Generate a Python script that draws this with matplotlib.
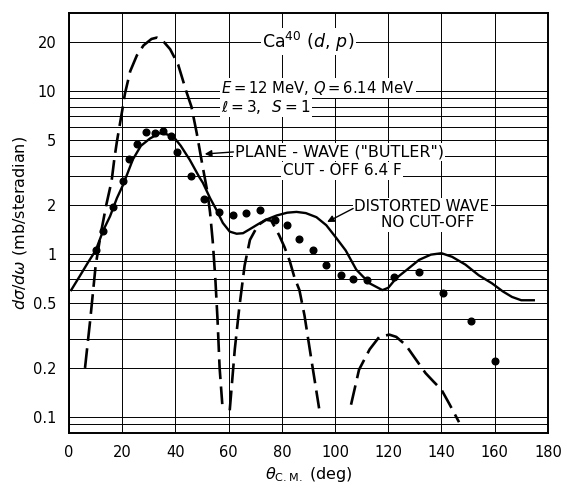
import matplotlib.pyplot as plt
from matplotlib.ticker import NullFormatter

# measured cross sections, Ca40 (d,p), E = 12 MeV
theta_data = [10, 12.9, 16.6, 20.2, 22.4, 25.5, 28.8, 32.2, 35.3, 38.2, 40.6, 46,
              50.6, 56.2, 61.6, 66.7, 71.7, 77.3, 82, 86.5, 91.6, 96.7, 102.2,
              106.7, 112, 122, 131.6, 140.6, 151, 160]
sigma_data = [1.06, 1.38, 1.94, 2.8, 3.8, 4.7, 5.6, 5.55, 5.7, 5.3, 4.2, 3.0,
              2.17, 1.8, 1.74, 1.77, 1.86, 1.62, 1.5, 1.24, 1.06, 0.86, 0.74,
              0.70, 0.69, 0.72, 0.78, 0.575, 0.39, 0.22]

# distorted wave, no cut-off
theta_dw = [0.8, 4, 7, 10, 12.9, 15.4, 18, 20.3, 24, 27, 30.4, 34, 37, 39.8, 42,
            45.4, 49, 50.3, 53, 55.5, 57.8, 60.4, 63, 65.4, 68, 71, 74, 78, 82,
            85.5, 89, 93, 96.7, 100.5, 104, 108, 113, 117.8, 120, 123, 127,
            131.6, 136, 140, 144, 149, 154, 159, 163, 166.5, 170, 174.7]
sigma_dw = [0.6, 0.73, 0.88, 1.05, 1.4, 1.7, 2.2, 2.65, 3.8, 4.6, 5.1, 5.5, 5.4,
            5.1, 4.6, 3.77, 2.95, 2.73, 2.2, 1.85, 1.55, 1.37, 1.33, 1.34, 1.42,
            1.52, 1.62, 1.72, 1.79, 1.81, 1.78, 1.68, 1.5, 1.25, 1.05, 0.8, 0.66,
            0.6, 0.62, 0.71, 0.8, 0.92, 0.99, 1.01, 0.96, 0.86, 0.74, 0.66, 0.59,
            0.545, 0.52, 0.52]

# plane wave (Butler), cut-off 6.4 F -- three lobes
theta_pw1 = [6, 8, 10, 12, 14, 16, 17, 18, 20, 21, 23, 25.5, 28, 31, 33, 35, 38,
             41, 44, 46, 48, 50, 52, 53, 54, 55, 55.8, 56.6, 57.6]
sigma_pw1 = [0.2, 0.4, 0.85, 1.35, 2.0, 2.8, 3.8, 4.9, 7.6, 9.6, 13.2, 16.5, 19,
             20.8, 21.2, 20.5, 18, 14.5, 10, 8.0, 5.5, 3.6, 2.4, 1.8, 1.2, 0.7,
             0.4, 0.2, 0.12]
theta_pw2 = [60.4, 62.3, 64, 66, 68, 71, 74, 76, 79, 81, 83, 84.7, 86.6, 88.5,
             91, 94]
sigma_pw2 = [0.11, 0.26, 0.47, 0.85, 1.22, 1.5, 1.62, 1.6, 1.3, 1.1, 0.9, 0.72,
             0.6, 0.42, 0.23, 0.113]
theta_pw3 = [106, 109, 113, 116.6, 120.4, 123, 126.6, 130, 134, 137, 140, 143,
             146.6]
sigma_pw3 = [0.119, 0.195, 0.26, 0.31, 0.32, 0.31, 0.276, 0.23, 0.186, 0.165,
             0.147, 0.12, 0.093]

x_ticks = [0, 20, 40, 60, 80, 100, 120, 140, 160, 180]
y_ticks = [0.1, 0.2, 0.5, 1, 2, 5, 10, 20]
y_tick_labels = ['0.1', '0.2', '0.5', '1', '2', '5', '10', '20']
y_minor = [0.09, 0.3, 0.4, 0.6, 0.7, 0.8, 0.9, 3, 4, 6, 7, 8, 9]

fig = plt.figure(figsize=(5.66, 4.82), dpi=100)
ax = fig.add_axes([0.122, 0.102, 0.846, 0.871])
ax.set_yscale('log')
ax.set_xlim(0, 180)
ax.set_ylim(0.08, 30)

ax.set_xticks(x_ticks)
ax.set_yticks(y_ticks)
ax.set_yticklabels(y_tick_labels)
ax.set_yticks(y_minor, minor=True)
ax.yaxis.set_minor_formatter(NullFormatter())
ax.tick_params(which='both', length=0, labelsize=10.5, pad=9)
ax.grid(True, which='both', color='black', linewidth=0.7)
ax.set_axisbelow(True)
for s in ax.spines.values():
    s.set_linewidth(1.4)

dash = (0, (7.5, 2.8))
for t, s in [(theta_pw1, sigma_pw1), (theta_pw2, sigma_pw2), (theta_pw3, sigma_pw3)]:
    ax.plot(t, s, color='black', linewidth=1.9, linestyle=dash, zorder=3)
ax.plot(theta_dw, sigma_dw, color='black', linewidth=1.7, zorder=3)
ax.plot(theta_data, sigma_data, 'o', color='black', markersize=4.8, zorder=4)

box = dict(facecolor='white', edgecolor='none', pad=1.0)
ax.text(72.5, 20, r'Ca$^{40}$ ($d,\, p$)', fontsize=12.5, va='center', bbox=box, zorder=5)
ax.text(57.2, 10.4, r'$E = 12$ MeV, $Q = 6.14$ MeV', fontsize=10.6, va='center',
        bbox=box, zorder=5)
ax.text(57.2, 8.0, r'$\ell = 3,\;\; S = 1$', fontsize=11, va='center', bbox=box, zorder=5)
ax.text(62.3, 4.22, 'PLANE - WAVE ("BUTLER")', fontsize=11.5, va='center',
        bbox=box, zorder=5)
ax.text(80.3, 3.23, 'CUT - OFF 6.4 F', fontsize=11, va='center', bbox=box, zorder=5)
ax.text(107.3, 1.94, 'DISTORTED WAVE', fontsize=10.9, va='center', bbox=box, zorder=5)
ax.text(117.3, 1.55, 'NO CUT-OFF', fontsize=11, va='center', bbox=box, zorder=5)

arrow = dict(arrowstyle='-|>', color='black', linewidth=1.0, mutation_scale=10,
             shrinkA=0, shrinkB=0)
ax.annotate('', xy=(51, 4.1), xytext=(61.8, 4.22), arrowprops=arrow, zorder=5)
ax.annotate('', xy=(97, 1.57), xytext=(106.8, 1.9), arrowprops=arrow, zorder=5)

ax.set_xlabel(r'$\theta_{\rm C.M.}$ (deg)', fontsize=11.5, labelpad=3)
ax.set_ylabel(r'$d\sigma/d\omega$ (mb/steradian)', fontsize=11.5, labelpad=3)

fig.savefig('out.png', dpi=100)
